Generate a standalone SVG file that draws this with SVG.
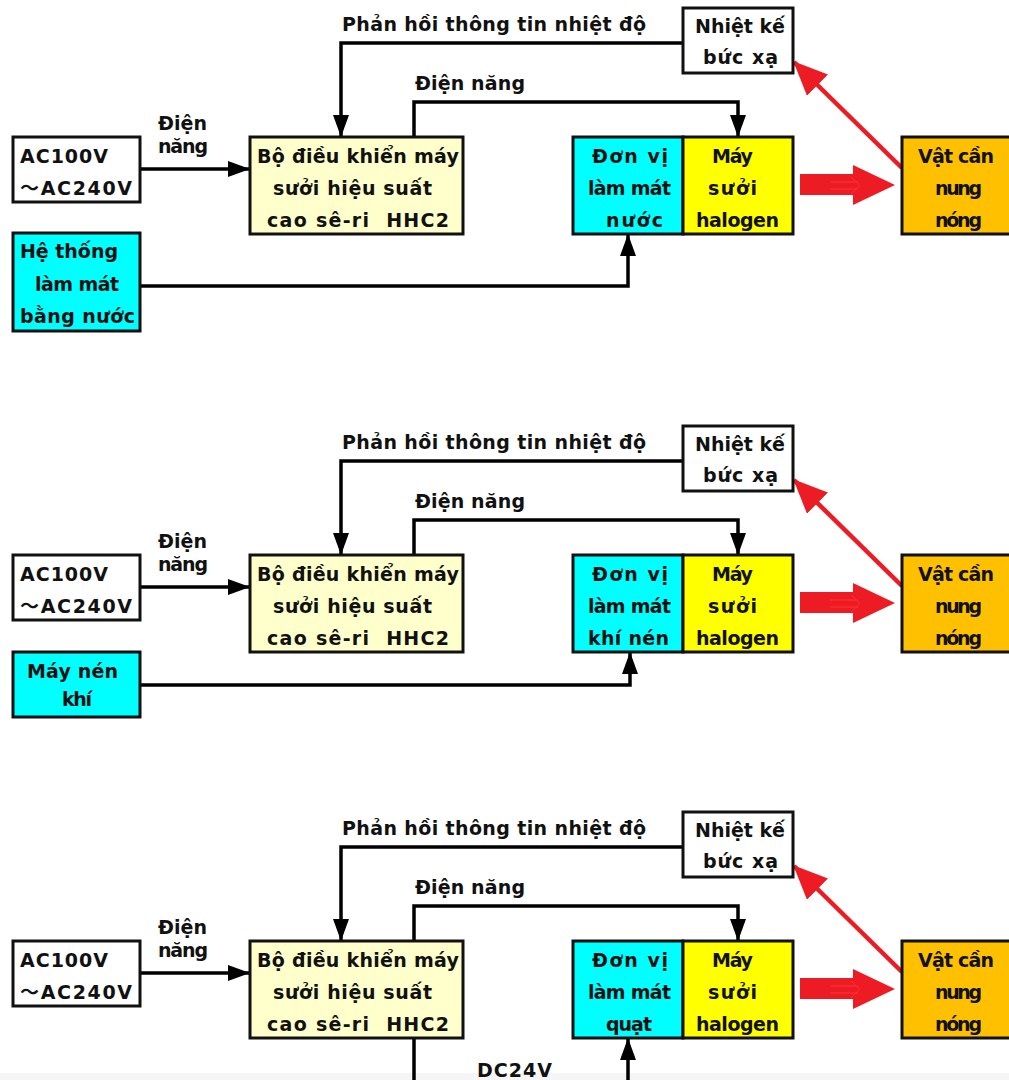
<svg xmlns="http://www.w3.org/2000/svg" width="1009" height="1080" viewBox="0 0 1009 1080">
<style>
  .bx{stroke:#111;stroke-width:3}
  .t{font-family:"DejaVu Sans","Noto Sans CJK JP",sans-serif;font-weight:bold;font-size:19px;fill:#111;white-space:pre}
  .ln{fill:none;stroke:#000;stroke-width:3.5;marker-end:url(#ah)}
  .lnp{fill:none;stroke:#000;stroke-width:3.5}
  .rd{fill:none;stroke:#ED1C24;stroke-width:4.5;marker-end:url(#rh)}
</style>
<defs>
  <marker id="ah" markerUnits="userSpaceOnUse" markerWidth="22" markerHeight="16" refX="21" refY="8" orient="auto">
    <path d="M0,0 L22,8 L0,16 z" fill="#000"/>
  </marker>
  <marker id="rh" markerUnits="userSpaceOnUse" markerWidth="34" markerHeight="30" refX="33" refY="15" orient="auto">
    <path d="M0,0 L34,15 L0,30 z" fill="#ED1C24"/>
  </marker>
</defs>
<rect width="1009" height="1080" fill="#fff"/>
<rect x="0" y="1073" width="1009" height="7" fill="#f5f5f5"/>

<g id="connectors">
  <g transform="translate(0,0)">
    <path class="ln" d="M683,43 H341 V136"/>
    <path class="ln" d="M414,137 V102 H738 V136"/>
    <path class="ln" d="M140,169 H249"/>
    <path class="ln" d="M140,286 H628 V235"/>
    <path class="rd" d="M902,168 L794,62"/>
    <polygon points="800,174 853,174 853,165 895,185 853,205 853,195 800,195" fill="#ED1C24"/>
    <path d="M830,182 H858 M830,189 H858 M851,177 L860,185.5 L851,194" fill="none" stroke="#ff3030" stroke-width="1"/>
  </g>
  <g transform="translate(0,418)">
    <path class="ln" d="M683,43 H341 V136"/>
    <path class="ln" d="M414,137 V102 H738 V136"/>
    <path class="ln" d="M140,169 H249"/>
    <path class="ln" d="M140,267 H630 V235"/>
    <path class="rd" d="M902,168 L794,62"/>
    <polygon points="800,174 853,174 853,165 895,185 853,205 853,195 800,195" fill="#ED1C24"/>
    <path d="M830,182 H858 M830,189 H858 M851,177 L860,185.5 L851,194" fill="none" stroke="#ff3030" stroke-width="1"/>
  </g>
  <g transform="translate(0,804)">
    <path class="ln" d="M683,43 H341 V136"/>
    <path class="ln" d="M414,137 V102 H738 V136"/>
    <path class="ln" d="M140,169 H249"/>
    <path class="lnp" d="M414,234 V280"/>
    <path class="ln" d="M628,280 V235"/>
    <path class="rd" d="M902,168 L794,62"/>
    <polygon points="800,174 853,174 853,165 895,185 853,205 853,195 800,195" fill="#ED1C24"/>
    <path d="M830,182 H858 M830,189 H858 M851,177 L860,185.5 L851,194" fill="none" stroke="#ff3030" stroke-width="1"/>
  </g>
</g>

<!-- Section 1 -->
<g transform="translate(0,0)">
  <g id="s1-label-feedback"><text class="t" x="342" y="31" textLength="304" lengthAdjust="spacing">Phản hồi thông tin nhiệt độ</text></g>
  <g id="s1-label-power"><text class="t" x="415" y="90" textLength="110" lengthAdjust="spacing">Điện năng</text></g>
  <g id="s1-label-input"><text class="t" x="158" y="130" textLength="49" lengthAdjust="spacing">Điện</text><text class="t" x="158" y="153" textLength="50" lengthAdjust="spacing">năng</text></g>
  <g id="s1-thermo"><rect class="bx" x="683" y="8" width="110" height="65" fill="#fff"/>
    <text class="t" x="695" y="33" textLength="90" lengthAdjust="spacing">Nhiệt kế</text>
    <text class="t" x="703" y="64" textLength="75" lengthAdjust="spacing">bức xạ</text></g>
  <g id="s1-ac"><rect class="bx" x="13" y="137" width="127" height="65" fill="#fff"/>
    <text class="t" x="20" y="163" textLength="88" lengthAdjust="spacing">AC100V</text>
    <text class="t" x="20" y="195" textLength="112" lengthAdjust="spacing">～AC240V</text></g>
  <g id="s1-ctrl"><rect class="bx" x="250" y="137" width="213" height="97" fill="#FFFFCC"/>
    <text class="t" x="257" y="163" textLength="202" lengthAdjust="spacing">Bộ điều khiển máy</text>
    <text class="t" x="273" y="195" textLength="159" lengthAdjust="spacing">sưởi hiệu suất</text>
    <text class="t" x="267" y="227" textLength="182" lengthAdjust="spacing">cao sê-ri  HHC2</text></g>
  <g id="s1-water"><rect class="bx" x="13" y="233" width="127" height="98" fill="#00FFFF"/>
    <text class="t" x="20" y="258" textLength="98" lengthAdjust="spacing">Hệ thống</text>
    <text class="t" x="35" y="291" textLength="84" lengthAdjust="spacing">làm mát</text>
    <text class="t" x="20" y="323" textLength="115" lengthAdjust="spacing">bằng nước</text></g>
  <g id="s1-cool"><rect class="bx" x="573" y="137" width="110" height="97" fill="#00FFFF"/>
    <text class="t" x="592" y="163" textLength="76" lengthAdjust="spacing">Đơn vị</text>
    <text class="t" x="588" y="195" textLength="83" lengthAdjust="spacing">làm mát</text>
    <text class="t" x="606" y="227" textLength="57" lengthAdjust="spacing">nước</text></g>
  <g id="s1-heater"><rect class="bx" x="683" y="137" width="110" height="97" fill="#FFFF00"/>
    <text class="t" x="712" y="163" textLength="41" lengthAdjust="spacing">Máy</text>
    <text class="t" x="708" y="195" textLength="49" lengthAdjust="spacing">sưởi</text>
    <text class="t" x="696" y="227" textLength="83" lengthAdjust="spacing">halogen</text></g>
  <g id="s1-target"><rect class="bx" x="902" y="137" width="120" height="97" fill="#FFC000"/>
    <text class="t" x="918" y="163" textLength="76" lengthAdjust="spacing">Vật cần</text>
    <text class="t" x="935" y="195" textLength="47" lengthAdjust="spacing">nung</text>
    <text class="t" x="935" y="227" textLength="47" lengthAdjust="spacing">nóng</text></g>
</g>

<!-- Section 2 -->
<g transform="translate(0,418)">
  <g id="s2-label-feedback"><text class="t" x="342" y="31" textLength="304" lengthAdjust="spacing">Phản hồi thông tin nhiệt độ</text></g>
  <g id="s2-label-power"><text class="t" x="415" y="90" textLength="110" lengthAdjust="spacing">Điện năng</text></g>
  <g id="s2-label-input"><text class="t" x="158" y="130" textLength="49" lengthAdjust="spacing">Điện</text><text class="t" x="158" y="153" textLength="50" lengthAdjust="spacing">năng</text></g>
  <g id="s2-thermo"><rect class="bx" x="683" y="8" width="110" height="65" fill="#fff"/>
    <text class="t" x="695" y="33" textLength="90" lengthAdjust="spacing">Nhiệt kế</text>
    <text class="t" x="703" y="64" textLength="75" lengthAdjust="spacing">bức xạ</text></g>
  <g id="s2-ac"><rect class="bx" x="13" y="137" width="127" height="65" fill="#fff"/>
    <text class="t" x="20" y="163" textLength="88" lengthAdjust="spacing">AC100V</text>
    <text class="t" x="20" y="195" textLength="112" lengthAdjust="spacing">～AC240V</text></g>
  <g id="s2-ctrl"><rect class="bx" x="250" y="137" width="213" height="97" fill="#FFFFCC"/>
    <text class="t" x="257" y="163" textLength="202" lengthAdjust="spacing">Bộ điều khiển máy</text>
    <text class="t" x="273" y="195" textLength="159" lengthAdjust="spacing">sưởi hiệu suất</text>
    <text class="t" x="267" y="227" textLength="182" lengthAdjust="spacing">cao sê-ri  HHC2</text></g>
  <g id="s2-compressor"><rect class="bx" x="13" y="234" width="127" height="65" fill="#00FFFF"/>
    <text class="t" x="27" y="260" textLength="91" lengthAdjust="spacing">Máy nén</text>
    <text class="t" x="62" y="288" textLength="30" lengthAdjust="spacing">khí</text></g>
  <g id="s2-cool"><rect class="bx" x="573" y="137" width="110" height="97" fill="#00FFFF"/>
    <text class="t" x="592" y="163" textLength="76" lengthAdjust="spacing">Đơn vị</text>
    <text class="t" x="588" y="195" textLength="83" lengthAdjust="spacing">làm mát</text>
    <text class="t" x="588" y="227" textLength="81" lengthAdjust="spacing">khí nén</text></g>
  <g id="s2-heater"><rect class="bx" x="683" y="137" width="110" height="97" fill="#FFFF00"/>
    <text class="t" x="712" y="163" textLength="41" lengthAdjust="spacing">Máy</text>
    <text class="t" x="708" y="195" textLength="49" lengthAdjust="spacing">sưởi</text>
    <text class="t" x="696" y="227" textLength="83" lengthAdjust="spacing">halogen</text></g>
  <g id="s2-target"><rect class="bx" x="902" y="137" width="120" height="97" fill="#FFC000"/>
    <text class="t" x="918" y="163" textLength="76" lengthAdjust="spacing">Vật cần</text>
    <text class="t" x="935" y="195" textLength="47" lengthAdjust="spacing">nung</text>
    <text class="t" x="935" y="227" textLength="47" lengthAdjust="spacing">nóng</text></g>
</g>

<!-- Section 3 -->
<g transform="translate(0,804)">
  <g id="s3-label-feedback"><text class="t" x="342" y="31" textLength="304" lengthAdjust="spacing">Phản hồi thông tin nhiệt độ</text></g>
  <g id="s3-label-power"><text class="t" x="415" y="90" textLength="110" lengthAdjust="spacing">Điện năng</text></g>
  <g id="s3-label-input"><text class="t" x="158" y="130" textLength="49" lengthAdjust="spacing">Điện</text><text class="t" x="158" y="153" textLength="50" lengthAdjust="spacing">năng</text></g>
  <g id="s3-label-dc"><text class="t" x="477" y="273" textLength="75" lengthAdjust="spacing">DC24V</text></g>
  <g id="s3-thermo"><rect class="bx" x="683" y="8" width="110" height="65" fill="#fff"/>
    <text class="t" x="695" y="33" textLength="90" lengthAdjust="spacing">Nhiệt kế</text>
    <text class="t" x="703" y="64" textLength="75" lengthAdjust="spacing">bức xạ</text></g>
  <g id="s3-ac"><rect class="bx" x="13" y="137" width="127" height="65" fill="#fff"/>
    <text class="t" x="20" y="163" textLength="88" lengthAdjust="spacing">AC100V</text>
    <text class="t" x="20" y="195" textLength="112" lengthAdjust="spacing">～AC240V</text></g>
  <g id="s3-ctrl"><rect class="bx" x="250" y="137" width="213" height="97" fill="#FFFFCC"/>
    <text class="t" x="257" y="163" textLength="202" lengthAdjust="spacing">Bộ điều khiển máy</text>
    <text class="t" x="273" y="195" textLength="159" lengthAdjust="spacing">sưởi hiệu suất</text>
    <text class="t" x="267" y="227" textLength="182" lengthAdjust="spacing">cao sê-ri  HHC2</text></g>
  <g id="s3-cool"><rect class="bx" x="573" y="137" width="110" height="97" fill="#00FFFF"/>
    <text class="t" x="592" y="163" textLength="76" lengthAdjust="spacing">Đơn vị</text>
    <text class="t" x="588" y="195" textLength="83" lengthAdjust="spacing">làm mát</text>
    <text class="t" x="606" y="227" textLength="46" lengthAdjust="spacing">quạt</text></g>
  <g id="s3-heater"><rect class="bx" x="683" y="137" width="110" height="97" fill="#FFFF00"/>
    <text class="t" x="712" y="163" textLength="41" lengthAdjust="spacing">Máy</text>
    <text class="t" x="708" y="195" textLength="49" lengthAdjust="spacing">sưởi</text>
    <text class="t" x="696" y="227" textLength="83" lengthAdjust="spacing">halogen</text></g>
  <g id="s3-target"><rect class="bx" x="902" y="137" width="120" height="97" fill="#FFC000"/>
    <text class="t" x="918" y="163" textLength="76" lengthAdjust="spacing">Vật cần</text>
    <text class="t" x="935" y="195" textLength="47" lengthAdjust="spacing">nung</text>
    <text class="t" x="935" y="227" textLength="47" lengthAdjust="spacing">nóng</text></g>
</g>
</svg>
